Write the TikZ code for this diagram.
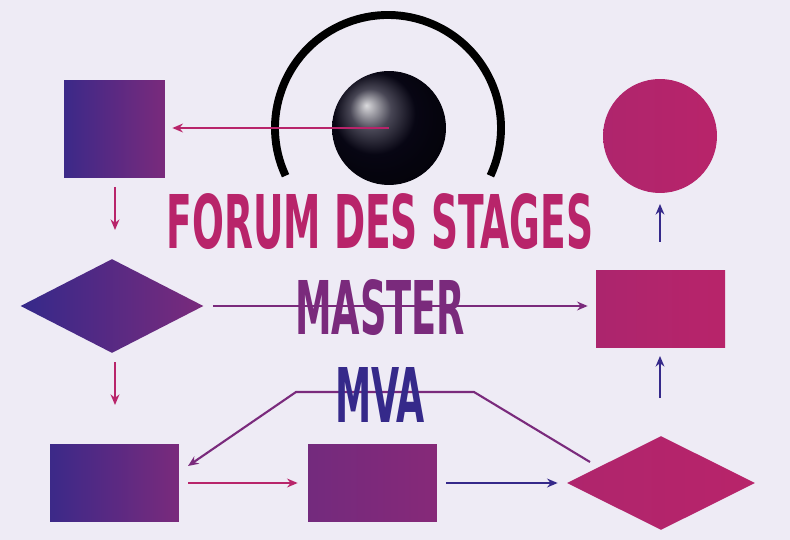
\documentclass[tikz,border=0pt]{standalone}
\usepackage{fontspec}
\setmainfont{DejaVu Sans}
\usetikzlibrary{shapes.geometric,arrows.meta}
\definecolor{bg}{HTML}{EEEBF5}
\definecolor{indigo}{HTML}{35298A}
\definecolor{plum}{HTML}{7A2A7C}
\definecolor{magenta}{HTML}{B8246A}
\tikzset{box/.style={rectangle,inner sep=0pt,left color=indigo!95!magenta,right color=plum}}
\tikzset{boxr/.style={rectangle,inner sep=0pt,left color=magenta!80!plum,right color=magenta}}
\tikzset{link/.style={line width=1.2pt,-{Stealth[length=6pt,width=5pt]}}}
\tikzset{title/.style={inner sep=0pt,font=\bfseries}}
\begin{document}
\begin{tikzpicture}[x=0.02cm,y=-0.02cm]
  \useasboundingbox[fill=bg] (0,0) rectangle (790,540);
  \draw[line width=4.5pt] (388,128) ++(155:113) arc[start angle=155,end angle=385,radius=113];
  \node[box,minimum width=2.02cm,minimum height=1.96cm] (r1) at (114.5,129) {};
  \node[diamond,inner sep=0pt,minimum width=3.66cm,minimum height=1.88cm,left color=indigo,right color=plum] (d1) at (112,306) {};
  \node[box,minimum width=2.58cm,minimum height=1.56cm] (r2) at (114.5,483) {};
  \node[rectangle,inner sep=0pt,minimum width=2.58cm,minimum height=1.56cm,left color=plum!90!indigo,right color=plum!80!magenta] (r3) at (372.5,483) {};
  \node[diamond,inner sep=0pt,minimum width=3.76cm,minimum height=1.88cm,left color=magenta!85!plum,right color=magenta] (d2) at (661,483) {};
  \node[boxr,minimum width=2.58cm,minimum height=1.56cm] (r4) at (660.5,309) {};
  \node[circle,inner sep=0pt,minimum size=2.28cm,left color=magenta!85!plum,right color=magenta] (c1) at (660,136) {};
  \node[circle,inner sep=0pt,minimum size=2.28cm,ball color=black!80!indigo] (ball) at (389,128) {};
  % connectors
  \draw[link,magenta,shorten >=7*0.02cm] (ball.center) -- (ball.center -| r1.east);
  \draw[link,magenta] (115,187) coordinate (a1) -- (115,230) coordinate (a2);
  \draw[link,magenta] (115,362) coordinate (a3) -- (115,405) coordinate (a4);
  \draw[link,plum,shorten <=9*0.02cm,shorten >=8*0.02cm] (d1.east) -- (d1.east -| r4.west);
  \draw[link,magenta] ([xshift=9*0.02cm]r2.east) -- ([xshift=-10*0.02cm]r3.west);
  \draw[link,indigo] ([xshift=9*0.02cm]r3.east) -- ([xshift=-9*0.02cm]d2.west);
  \draw[link,plum] (590,462) coordinate (b1) -- (474,392) -- (296,392) -- (188,466) coordinate (b2);
  \draw[link,indigo] (660,398) coordinate (a5) -- (660,356) coordinate (a6);
  \draw[link,indigo] (660,242) coordinate (a7) -- (660,204) coordinate (a8);
  % title
  \node[title,text=magenta] (t1) at (380,222) {\resizebox{8.54cm}{1.1cm}{FORUM DES STAGES}};
  \node[title,text=plum] (t2) at (380,308) {\resizebox{3.4cm}{1.1cm}{MASTER}};
  \node[title,text=indigo] (t3) at (380,395) {\resizebox{1.8cm}{1.1cm}{MVA}};
\end{tikzpicture}
\end{document}
